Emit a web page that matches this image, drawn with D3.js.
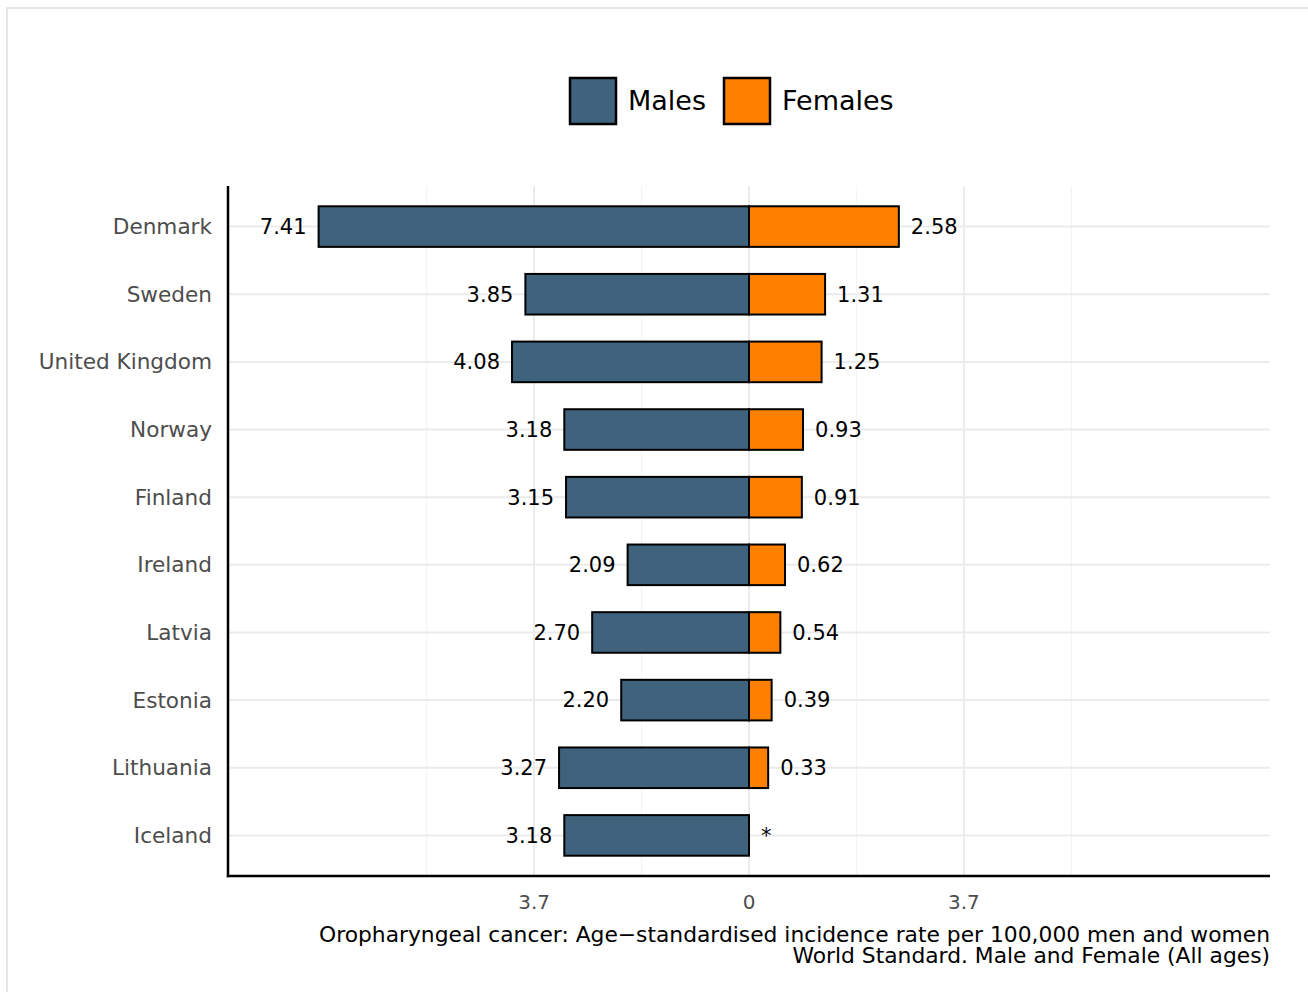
<!DOCTYPE html>
<html><head><meta charset="utf-8">
<script src="https://cdn.jsdelivr.net/npm/d3@7"></script>
<style>body{margin:0;background:#fff}svg{display:block;font-family:"DejaVu Sans",sans-serif}</style>
</head><body><svg id="c" width="1308" height="992"></svg>
<script>
const countries = ["Denmark","Sweden","United Kingdom","Norway","Finland","Ireland","Latvia","Estonia","Lithuania","Iceland"];
const males   = [7.41,3.85,4.08,3.18,3.15,2.09,2.70,2.20,3.27,3.18];
const females = [2.58,1.31,1.25,0.93,0.91,0.62,0.54,0.39,0.33,null];
const maleLabels   = ["7.41","3.85","4.08","3.18","3.15","2.09","2.70","2.20","3.27","3.18"];
const femaleLabels = ["2.58","1.31","1.25","0.93","0.91","0.62","0.54","0.39","0.33","*"];
const majorTicks = [-3.7,0,3.7];
const minorTicks = [-5.55,-1.85,1.85,5.55];
const tickLabels = ["3.7","0","3.7"];
const seriesNames = ["Males","Females"];
const colors = ["#3f637c","#ff8000"];
const captionLines = ["Oropharyngeal cancer: Age\u2212standardised incidence rate per 100,000 men and women","World Standard. Male and Female (All ages)"];

const svg = d3.select("#c");
const L=228,R=1270,T=186,B=876;
svg.append("rect").attr("x",7).attr("y",8).attr("width",1310).attr("height",1000)
  .attr("fill","none").attr("stroke","#e6e6e6").attr("stroke-width",2);

const x = d3.scaleLinear().domain([-8.97,8.97]).range([L,R]);
const y = d3.scalePoint().domain(countries).range([T,B]).padding(0.6);
const step = y.step();
const bh = step*0.6;

const g = svg.append("g");
g.selectAll(".mn").data(minorTicks).join("line")
  .attr("x1",d=>x(d)).attr("x2",d=>x(d)).attr("y1",T).attr("y2",B)
  .attr("stroke","#f4f4f4").attr("stroke-width",1.2);
g.selectAll(".mj").data(majorTicks).join("line")
  .attr("x1",d=>x(d)).attr("x2",d=>x(d)).attr("y1",T).attr("y2",B)
  .attr("stroke","#ebebeb").attr("stroke-width",2);
g.selectAll(".hz").data(countries).join("line")
  .attr("x1",L).attr("x2",R).attr("y1",d=>y(d)).attr("y2",d=>y(d))
  .attr("stroke","#ebebeb").attr("stroke-width",2);

g.selectAll(".m").data(countries).join("rect")
  .attr("x",(d,i)=>x(-males[i])).attr("width",(d,i)=>x(0)-x(-males[i]))
  .attr("y",d=>y(d)-bh/2).attr("height",bh)
  .attr("fill",colors[0]).attr("stroke","#000").attr("stroke-width",2);
g.selectAll(".f").data(countries.filter((d,i)=>females[i]!=null)).join("rect")
  .attr("x",x(0)).attr("width",d=>x(females[countries.indexOf(d)])-x(0))
  .attr("y",d=>y(d)-bh/2).attr("height",bh)
  .attr("fill",colors[1]).attr("stroke","#000").attr("stroke-width",2);

g.selectAll(".ml").data(countries).join("text")
  .attr("x",(d,i)=>x(-males[i])-12).attr("y",d=>y(d)).attr("dy","0.35em")
  .attr("text-anchor","end").attr("font-size",21).attr("fill","#000")
  .text((d,i)=>maleLabels[i]);
g.selectAll(".fl").data(countries).join("text")
  .attr("x",(d,i)=>x(females[i]||0)+12).attr("y",d=>y(d)).attr("dy","0.35em")
  .attr("text-anchor","start").attr("font-size",21).attr("fill","#000")
  .text((d,i)=>femaleLabels[i]);

g.append("line").attr("x1",L).attr("x2",L).attr("y1",T).attr("y2",B+1.2).attr("stroke","#000").attr("stroke-width",2.5);
g.append("line").attr("x1",L-1.2).attr("x2",R).attr("y1",B).attr("y2",B).attr("stroke","#000").attr("stroke-width",2.5);

g.selectAll(".cl").data(countries).join("text")
  .attr("x",L-16).attr("y",d=>y(d)).attr("dy","0.35em").attr("text-anchor","end")
  .attr("font-size",21.6).attr("fill","#4d4d4d").text(d=>d);
g.selectAll(".tl").data(majorTicks).join("text")
  .attr("x",d=>x(d)).attr("y",901.5).attr("dy","0.35em").attr("text-anchor","middle")
  .attr("font-size",20).attr("fill","#4d4d4d").text((d,i)=>tickLabels[i]);

svg.selectAll(".cap").data(captionLines).join("text")
  .attr("x",R).attr("y",(d,i)=>941.5+i*21).attr("text-anchor","end")
  .attr("font-size",21.8).attr("fill","#000").text(d=>d);

const lx=[569,723];
seriesNames.forEach((s,i)=>{
  svg.append("rect").attr("x",lx[i]+1).attr("y",78).attr("width",46).attr("height",46)
    .attr("fill",colors[i]).attr("stroke","#000").attr("stroke-width",2.5);
  svg.append("text").attr("x",lx[i]+59).attr("y",101).attr("dy","0.35em")
    .attr("font-size",27).attr("fill","#000").text(s);
});
</script></body></html>
